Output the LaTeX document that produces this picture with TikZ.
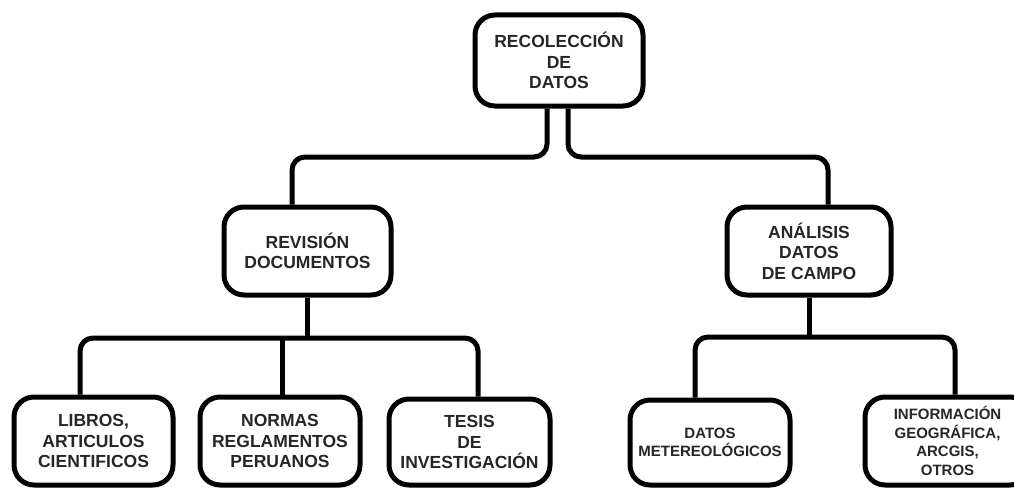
\documentclass[tikz,border=0pt]{standalone}
\usepackage{fontspec}
\setmainfont{Liberation Sans}
\begin{document}
\begin{tikzpicture}[x=1pt,y=-1pt,
  box/.style={draw=black, line width=5pt, rounded corners=20pt, inner sep=0pt, align=center,
    font=\bfseries\fontsize{17.5}{20.5}\selectfont, text=black!85},
  sbox/.style={box, font=\bfseries\fontsize{15}{18.5}\selectfont},
  conn/.style={draw=black, line width=5pt, rounded corners=13pt}]
\useasboundingbox (0,0) rectangle (1014,487);
\clip (0,0) rectangle (1014,487);
\fill[white] (0,0) rectangle (1014,487);
\node[box, minimum width=168pt, minimum height=91pt] (top) at (559,60.5) {RECOLECCIÓN\\DE\\DATOS};
\node[box, minimum width=167pt, minimum height=88pt] (rev) at (307.5,251) {REVISIÓN\\DOCUMENTOS};
\node[box, minimum width=164pt, minimum height=88pt] (ana) at (809,251) {ANÁLISIS\\DATOS\\DE CAMPO};
\node[box, minimum width=159pt, minimum height=88pt] (lib) at (93.5,441) {LIBROS,\\ARTICULOS\\CIENTIFICOS};
\node[box, minimum width=160pt, minimum height=88pt] (nor) at (280,441) {NORMAS\\REGLAMENTOS\\PERUANOS};
\node[box, minimum width=161pt, minimum height=86pt] (tes) at (469.5,442) {TESIS\\DE\\INVESTIGACIÓN};
\node[sbox, minimum width=160pt, minimum height=85pt] (dat) at (710,442.5) {DATOS\\METEREOLÓGICOS};
\node[sbox, minimum width=165pt, minimum height=88pt] (inf) at (947.5,441) {INFORMACIÓN\\GEOGRÁFICA,\\ARCGIS,\\OTROS};
\coordinate (j1) at (0,157);
\coordinate (j2) at (0,338);
\coordinate (j3) at (0,337);
% top to second level
\draw[conn] ([xshift=-12pt]top.south) |- ([xshift=-15.5pt]rev.north |- j1) -- ([xshift=-15.5pt]rev.north);
\draw[conn] ([xshift=9pt]top.south) |- ([xshift=19pt]ana.north |- j1) -- ([xshift=19pt]ana.north);
% revision branch
\draw[conn] (rev.south) -- (rev.south |- j2);
\draw[conn] ([xshift=-13.5pt]lib.north) |- ([xshift=8.5pt]tes.north |- j2) -- ([xshift=8.5pt]tes.north);
\draw[conn] ([xshift=2pt]nor.north) -- ([xshift=2pt]nor.north |- j2);
% analysis branch
\draw[conn] (ana.south) -- (ana.south |- j3);
\draw[conn] ([xshift=-15pt]dat.north) |- ([xshift=7.5pt]inf.north |- j3) -- ([xshift=7.5pt]inf.north);
\end{tikzpicture}
\end{document}
